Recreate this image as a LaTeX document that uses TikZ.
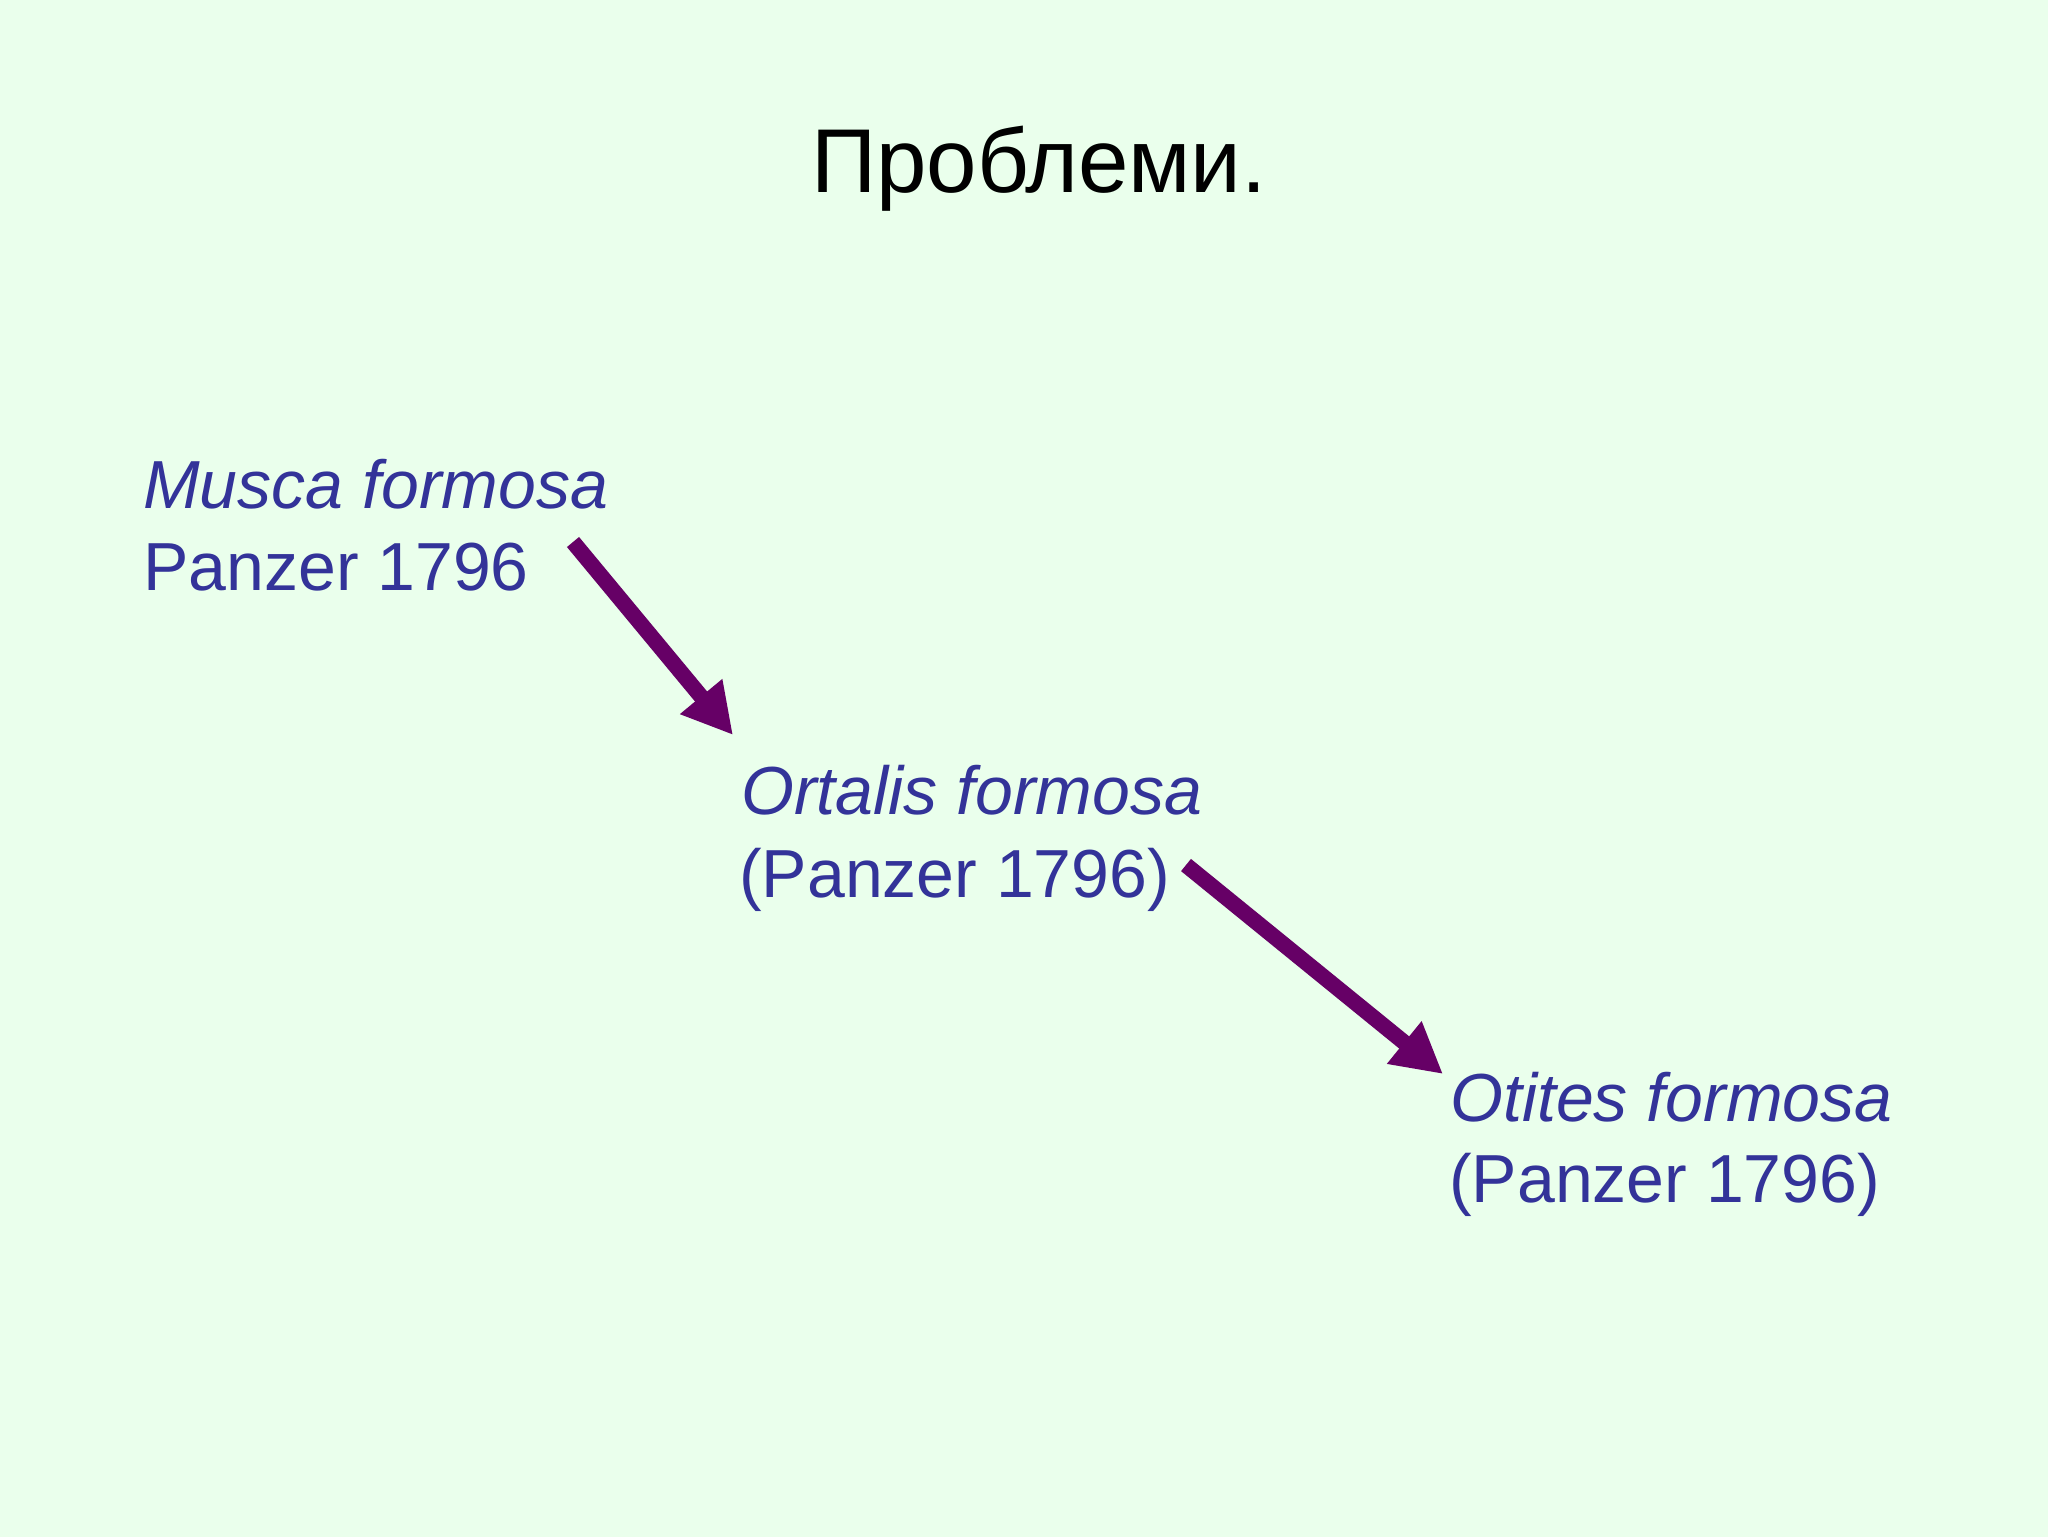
\documentclass[tikz,border=0pt]{standalone}
\usepackage{fontspec}
\setmainfont{Liberation Sans}
\usetikzlibrary{arrows.meta}
\definecolor{bgmint}{RGB}{234,255,236}
\definecolor{txtblue}{RGB}{51,51,153}
\definecolor{arrpurple}{RGB}{102,0,102}
\tikzset{
  titletext/.style={inner sep=0pt, anchor=base, text=black, font=\fontsize{68pt}{82pt}\selectfont},
  bodytext/.style={inner sep=0pt, anchor=base west, text=txtblue, font=\fontsize{51pt}{61pt}\selectfont},
  bodyital/.style={bodytext, font=\fontsize{51pt}{61pt}\selectfont\itshape},
  bigarrow/.style={draw=arrpurple, line width=11.8pt, line cap=butt,
    -{Triangle[width=38.5pt,length=37.5pt]}, fill=arrpurple}
}
\begin{document}
\begin{tikzpicture}[x=0.75pt,y=-0.75pt]
  \useasboundingbox (0,0) rectangle (2048,1536);
  \fill[bgmint] (-10,-10) rectangle (2058,1546);
  % title
  \node[titletext] (title) at (1039,192) {Проблеми.};
  % first block
  \node[bodyital] (musca) at (143,508) {Musca formosa};
  \node[bodytext] (muscaauth) at (143,590) {Panzer 1796};
  % second block
  \node[bodyital] (ortalis) at (741,814) {Ortalis formosa};
  \node[bodytext] (ortalisauth) at (739,897) {(Panzer 1796)};
  % third block
  \node[bodyital] (otites) at (1450,1121) {Otites formosa};
  \node[bodytext] (otitesauth) at (1449,1202) {(Panzer 1796)};
  % arrow end points
  \coordinate (a1s) at (573,542);
  \coordinate (a1e) at (733,735);
  \coordinate (a2s) at (1186,865);
  \coordinate (a2e) at (1443,1074);
  \draw[bigarrow] (a1s) -- (a1e);
  \draw[bigarrow] (a2s) -- (a2e);
\end{tikzpicture}
\end{document}
